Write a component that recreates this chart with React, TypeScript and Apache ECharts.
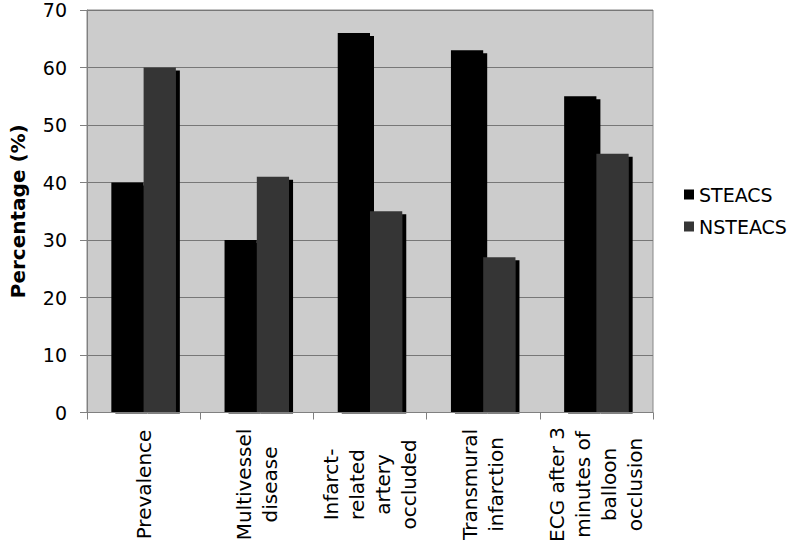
import React, { useEffect, useRef } from "react";
import * as echarts from "echarts";

const categories = [
  "Prevalence",
  "Multivessel\ndisease",
  "Infarct-\nrelated\nartery\noccluded",
  "Transmural\ninfarction",
  "ECG after 3\nminutes of\nballoon\nocclusion",
];
const steacs = [40, 30, 66, 63, 55];
const nsteacs = [60, 41, 35, 27, 45];
const yTicks = { min: 0, max: 70, interval: 10 };

const FONT = "DejaVu Sans";

export default function App() {
  const ref = useRef<HTMLDivElement>(null);
  useEffect(() => {
    if (!ref.current) return;
    const chart = echarts.init(ref.current, undefined, { renderer: "svg" });
    const shadow = {
      shadowColor: "#000000",
      shadowOffsetX: 4,
      shadowOffsetY: 3,
      shadowBlur: 0,
    };
    chart.setOption({
      animation: false,
      textStyle: { fontFamily: FONT },
      grid: {
        left: 77,
        right: 139,
        top: 10,
        bottom: 136.5,
        show: true,
        backgroundColor: "#cccccc",
        borderColor: "#888888",
        borderWidth: 1,
      },
      graphic: [
        {
          type: "rect",
          z: 5,
          shape: { x: 77, y: 413.5, width: 590, height: 5 },
          style: { fill: "#ffffff" },
        },
      ],
      legend: {
        orient: "vertical",
        left: 684,
        top: 185,
        padding: 0,
        itemWidth: 10,
        itemHeight: 10,
        itemGap: 13,
        icon: "rect",
        textStyle: { fontFamily: FONT, fontSize: 19, color: "#000" },
        data: ["STEACS", "NSTEACS"],
      },
      xAxis: {
        type: "category",
        data: categories,
        z: 10,
        axisLine: { lineStyle: { color: "#808080", width: 1 } },
        axisTick: { show: true, length: 7, lineStyle: { color: "#808080" } },
        axisLabel: {
          rotate: 90,
          align: "center",
          verticalAlign: "middle",
          margin: 72,
          interval: 0,
          fontFamily: FONT,
          fontSize: 20,
          lineHeight: 26,
          color: "#000",
        },
      },
      yAxis: {
        type: "value",
        min: yTicks.min,
        max: yTicks.max,
        interval: yTicks.interval,
        name: "Percentage (%)",
        nameLocation: "middle",
        nameGap: 59,
        nameTextStyle: { fontFamily: FONT, fontSize: 20, fontWeight: "bold", color: "#000" },
        axisLine: { show: true, lineStyle: { color: "#808080", width: 1 } },
        axisTick: { show: true, length: 7, lineStyle: { color: "#808080" } },
        axisLabel: { margin: 20, fontFamily: FONT, fontSize: 19, lineHeight: 18, color: "#000" },
        splitLine: { show: true, lineStyle: { color: "#777777", width: 1 } },
      },
      series: [
        {
          name: "STEACS",
          type: "bar",
          data: steacs,
          barGap: "0%",
          barCategoryGap: "43%",
          itemStyle: { color: "#000000", ...shadow },
        },
        {
          name: "NSTEACS",
          type: "bar",
          data: nsteacs,
          barGap: "0%",
          barCategoryGap: "43%",
          itemStyle: { color: "#363636", ...shadow },
        },
      ],
    });
    return () => chart.dispose();
  }, []);
  return (
    <div
      ref={ref}
      style={{ position: "absolute", left: 0, top: 0, width: 792, height: 549 }}
    />
  );
}
